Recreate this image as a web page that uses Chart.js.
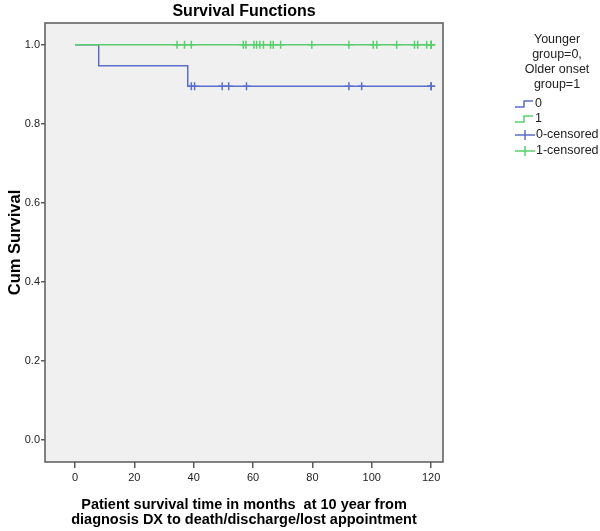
<!DOCTYPE html>
<html>
<head>
<meta charset="utf-8">
<script src="https://cdn.jsdelivr.net/npm/chart.js@4.4.1/dist/chart.umd.min.js"></script>
<style>
  html, body { margin: 0; padding: 0; background: #fff; }
</style>
</head>
<body>
<canvas id="km" width="600" height="531"></canvas>
<script>
// axis ticks
var xTicks = [0, 20, 40, 60, 80, 100, 120];
var yTicks = [0, 0.2, 0.4, 0.6, 0.8, 1.0];

// Kaplan-Meier steps, group 0 (younger) and group 1 (older onset)
var group0Time = [0, 8, 38, 120];
var group0Surv = [1, 0.947, 0.895, 0.895];
var group1Time = [0, 120];
var group1Surv = [1, 1];

// censored cases
var group0CensorTime = [39.2, 40.3, 49.6, 51.8, 57.8, 92.3, 96.6, 120, 120];
var group0CensorSurv = [0.895, 0.895, 0.895, 0.895, 0.895, 0.895, 0.895, 0.895, 0.895];
var group1CensorTime = [34.4, 36.9, 39.2, 56.7, 57.6, 60.3, 61.2, 62.3, 63.5, 65.9, 66.8, 69.3,
                        79.8, 92.3, 100.5, 101.7, 108.4, 114.4, 115.5, 118.5, 120, 120, 120];
var group1CensorSurv = [1, 1, 1, 1, 1, 1, 1, 1, 1, 1, 1, 1,
                        1, 1, 1, 1, 1, 1, 1, 1, 1, 1, 1];

var blue = "#5a6fca";
var green = "#58cf6d";

function pts(xs, ys) {
  return xs.map(function (x, i) { return { x: x, y: ys[i] }; });
}

var frame = {
  id: "frame",
  beforeDraw: function (chart) {
    var a = chart.chartArea, c = chart.ctx;
    c.save();
    c.fillStyle = "#f0f0f0";
    c.fillRect(a.left, a.top, a.right - a.left, a.bottom - a.top);
    c.restore();
  },
  afterDraw: function (chart) {
    var a = chart.chartArea, c = chart.ctx;
    c.save();
    c.strokeStyle = "#5a5a5a";
    c.lineWidth = 1.5;
    c.strokeRect(a.left, a.top, a.right - a.left, a.bottom - a.top);

    // title
    c.fillStyle = "#000";
    c.font = "bold 16px 'Liberation Sans', Arial, sans-serif";
    c.textAlign = "center";
    c.textBaseline = "middle";
    c.fillText("Survival Functions", (a.left + a.right) / 2, 12);

    // legend
    c.font = "12.5px 'Liberation Sans', Arial, sans-serif";
    c.fillStyle = "#222";
    var head = ["Younger", "group=0,", "Older onset", "group=1"];
    head.forEach(function (t, i) { c.fillText(t, 557, 40 + i * 15); });

    c.textAlign = "left";
    c.lineWidth = 1.5;
    // step icons
    [[blue, "0", 104], [green, "1", 119]].forEach(function (it) {
      var y = it[2];
      c.strokeStyle = it[0];
      c.beginPath();
      c.moveTo(515, y + 3);
      c.lineTo(524, y + 3);
      c.lineTo(524, y - 3);
      c.lineTo(533, y - 3);
      c.stroke();
      c.fillText(it[1], 535, y);
    });
    // cross icons
    [[blue, "0-censored", 135], [green, "1-censored", 151]].forEach(function (it) {
      var y = it[2];
      c.strokeStyle = it[0];
      c.beginPath();
      c.moveTo(515, y);
      c.lineTo(535, y);
      c.moveTo(525, y - 5);
      c.lineTo(525, y + 5);
      c.stroke();
      c.fillText(it[1], 536, y);
    });
    c.restore();
  }
};

new Chart(document.getElementById("km"), {
  type: "line",
  data: {
    datasets: [
      { label: "0", data: pts(group0Time, group0Surv), stepped: true, order: 3,
        borderColor: blue, borderWidth: 1.5, pointRadius: 0, fill: false },
      { label: "1", data: pts(group1Time, group1Surv), stepped: true, order: 2,
        borderColor: green, borderWidth: 1.5, pointRadius: 0, fill: false },
      { type: "scatter", label: "0-censored", data: pts(group0CensorTime, group0CensorSurv), order: 1,
        showLine: false, pointStyle: "cross", pointRadius: 4, borderColor: blue, borderWidth: 1.5 },
      { type: "scatter", label: "1-censored", data: pts(group1CensorTime, group1CensorSurv), order: 0,
        showLine: false, pointStyle: "cross", pointRadius: 4, borderColor: green, borderWidth: 1.5 }
    ]
  },
  options: {
    responsive: false,
    animation: false,
    layout: { padding: { top: 23, right: 157, left: 0, bottom: 0 } },
    plugins: {
      legend: { display: false },
      tooltip: { enabled: false },
      title: { display: false }
    },
    scales: {
      x: {
        type: "linear",
        min: -10.1,
        max: 124,
        afterFit: function (s) { s.height = 69; },
        afterBuildTicks: function (s) { s.ticks = xTicks.map(function (v) { return { value: v }; }); },
        grid: { drawOnChartArea: false, drawTicks: true, tickLength: 6, color: "#5a5a5a", lineWidth: 1.5 },
        border: { display: false },
        ticks: {
          padding: 3,
          color: "#222",
          font: { family: "'Liberation Sans', Arial, sans-serif", size: 11 },
          maxRotation: 0,
          callback: function (v) { return v; }
        },
        title: {
          display: true,
          text: ["Patient survival time in months  at 10 year from",
                 "diagnosis DX to death/discharge/lost appointment"],
          color: "#000",
          font: { family: "'Liberation Sans', Arial, sans-serif", size: 14.5, weight: "bold", lineHeight: 1.07 },
          padding: { top: 0, bottom: 3 }
        }
      },
      y: {
        type: "linear",
        min: -0.055,
        max: 1.055,
        afterFit: function (s) { s.width = 45; },
        afterBuildTicks: function (s) { s.ticks = yTicks.map(function (v) { return { value: v }; }); },
        grid: { drawOnChartArea: false, drawTicks: true, tickLength: 4, color: "#5a5a5a", lineWidth: 1.5 },
        border: { display: false },
        ticks: {
          padding: 1,
          color: "#222",
          font: { family: "'Liberation Sans', Arial, sans-serif", size: 11 },
          callback: function (v) { return Number(v).toFixed(1); }
        },
        title: {
          display: true,
          text: "Cum Survival",
          color: "#000",
          font: { family: "'Liberation Sans', Arial, sans-serif", size: 16.5, weight: "bold" },
          padding: { top: 6, bottom: 0 }
        }
      }
    }
  },
  plugins: [frame]
});
</script>
</body>
</html>
